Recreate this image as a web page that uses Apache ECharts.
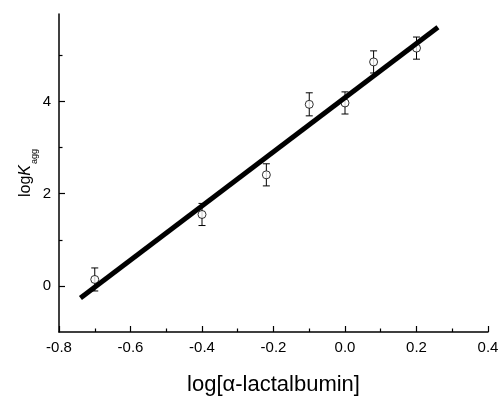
<!DOCTYPE html>
<html>
<head>
    <meta charset="utf-8">
    <title>logKagg vs log[α-lactalbumin]</title>
    <script src="https://cdn.jsdelivr.net/npm/echarts@6/dist/echarts.min.js"></script>
    <style>
        html, body { margin: 0; padding: 0; background: #fff; }
        #chart { width: 500px; height: 399px; }
    </style>
</head>
<body>
<div id="chart"></div>

<script type="text/javascript">
    // measured points
    var xVals = [-0.70, -0.40, -0.22, -0.10, 0.00, 0.08, 0.20];
    var yVals = [0.14, 1.55, 2.41, 3.94, 3.97, 4.86, 5.16];
    var yErr = [0.25, 0.24, 0.24, 0.25, 0.24, 0.24, 0.24];
    // linear fit line ends
    var fitX = [-0.74, 0.26];
    var fitY = [-0.26, 5.61];
    // y ticks
    var yMajor = [0, 2, 4];
    var yMinor = [1, 3, 5];

    var font = 'Liberation Sans, Arial, Helvetica, sans-serif';

    var points = xVals.map(function (x, i) { return [x, yVals[i]]; });
    var errData = xVals.map(function (x, i) { return [x, yVals[i] - yErr[i], yVals[i] + yErr[i]]; });
    var fitData = fitX.map(function (x, i) { return [x, fitY[i]]; });

    var chart = echarts.init(document.getElementById('chart'));
    chart.setOption({
        animation: false,
        grid: {left: 59, right: 12, top: 14, bottom: 67, outerBoundsMode: 'none'},
        xAxis: {
            type: 'value',
            min: -0.8,
            max: 0.4,
            interval: 0.2,
            name: 'log[α-lactalbumin]',
            nameLocation: 'middle',
            nameGap: 42,
            nameTextStyle: {fontFamily: font, fontSize: 22, color: '#000'},
            axisLine: {onZero: false, lineStyle: {color: '#000', width: 1.5}},
            axisTick: {inside: true, length: 6, lineStyle: {color: '#000', width: 1.2}},
            minorTick: {show: true, splitNumber: 2, length: 3.5, lineStyle: {color: '#000', width: 1.2}},
            axisLabel: {
                fontFamily: font, fontSize: 15, color: '#000', margin: 8,
                formatter: function (v) { return v.toFixed(1); }
            },
            splitLine: {show: false}
        },
        yAxis: [{
            type: 'value',
            min: -1,
            max: 5.9,
            name: '{m|log}{k|K}{s|agg}',
            nameLocation: 'middle',
            nameRotate: 90,
            nameGap: 20,
            nameMoveOverlap: false,
            nameTextStyle: {
                fontFamily: font, color: '#000',
                rich: {
                    m: {fontFamily: font, fontSize: 16, lineHeight: 27, color: '#000'},
                    k: {fontFamily: font, fontSize: 16, fontStyle: 'italic', lineHeight: 27, color: '#000'},
                    s: {fontFamily: font, fontSize: 9, lineHeight: 9, padding: [18, 0, 0, 1], color: '#000'}
                }
            },
            axisLine: {onZero: false, lineStyle: {color: '#000', width: 1.5}},
            axisTick: {inside: true, length: 6, customValues: yMajor, lineStyle: {color: '#000', width: 1.2}},
            axisLabel: {fontFamily: font, fontSize: 15, color: '#000', margin: 8, customValues: yMajor},
            splitLine: {show: false}
        }, {
            type: 'value',
            position: 'left',
            min: -1,
            max: 5.9,
            axisLine: {show: false, onZero: false},
            axisTick: {inside: true, length: 3.5, customValues: yMinor, lineStyle: {color: '#000', width: 1.2}},
            axisLabel: {show: false, customValues: yMinor},
            splitLine: {show: false}
        }],
        series: [{
            type: 'custom',
            name: 'error',
            data: errData,
            z: 2,
            renderItem: function (params, api) {
                var lo = api.coord([api.value(0), api.value(1)]);
                var hi = api.coord([api.value(0), api.value(2)]);
                var cap = 3.5;
                var st = {stroke: '#000', lineWidth: 1};
                return {
                    type: 'group',
                    children: [
                        {type: 'line', shape: {x1: lo[0], y1: lo[1], x2: hi[0], y2: hi[1]}, style: st},
                        {type: 'line', shape: {x1: lo[0] - cap, y1: lo[1], x2: lo[0] + cap, y2: lo[1]}, style: st},
                        {type: 'line', shape: {x1: hi[0] - cap, y1: hi[1], x2: hi[0] + cap, y2: hi[1]}, style: st}
                    ]
                };
            }
        }, {
            type: 'scatter',
            data: points,
            symbol: 'circle',
            symbolSize: 8,
            z: 3,
            itemStyle: {color: '#fff', borderColor: '#000', borderWidth: 1}
        }, {
            type: 'line',
            data: fitData,
            showSymbol: false,
            z: 4,
            lineStyle: {color: '#000', width: 5}
        }]
    });
</script>
</body>
</html>
